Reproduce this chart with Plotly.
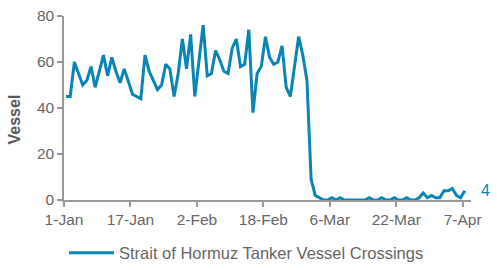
import pandas as pd
import plotly.graph_objects as go

start_date = "2026-01-01"
crossings = [
    45, 45, 60, 55, 50, 52, 58, 49, 56, 63,
    54, 62, 56, 51, 57, 51, 46, 45, 44, 63,
    56, 52, 48, 50, 59, 57, 45, 55, 70, 57,
    72, 45, 60, 76, 54, 55, 65, 61, 56, 55,
    66, 70, 58, 59, 74, 38, 55, 58, 71, 62,
    59, 60, 67, 49, 45, 58, 71, 63, 52, 9,
    2, 1, 0, 0, 1, 0, 1, 0, 0, 0,
    0, 0, 0, 1, 0, 0, 1, 0, 0, 1,
    0, 0, 1, 0, 0, 1, 3, 1, 2, 1,
    1, 4, 4, 5, 2, 1, 4,
]
series_name = "Strait of Hormuz Tanker Vessel Crossings"
tick_dates = ["2026-01-01", "2026-01-17", "2026-02-02", "2026-02-18",
              "2026-03-06", "2026-03-22", "2026-04-07"]
tick_labels = ["1-Jan", "17-Jan", "2-Feb", "18-Feb", "6-Mar", "22-Mar", "7-Apr"]
y_ticks = [0, 20, 40, 60, 80]

dates = pd.date_range(start_date, periods=len(crossings), freq="D") + pd.Timedelta(hours=12)

BLUE = "#0a84b4"
GREY_TXT = "#666666"
AXIS = "#999999"
FONT = "Liberation Sans, Arial, sans-serif"

fig = go.Figure()
fig.add_trace(go.Scatter(
    x=dates, y=crossings, mode="lines", name=series_name,
    line=dict(color=BLUE, width=3),
    showlegend=True,
))

fig.add_annotation(
    x=dates[-1], y=crossings[-1], text=str(crossings[-1]),
    xref="x", yref="y", xanchor="left", yanchor="middle",
    xshift=14, showarrow=False,
    font=dict(family=FONT, size=16, color=BLUE),
)
fig.add_annotation(
    x=0, y=0.4375, xref="paper", yref="paper", text="<b>Vessel</b>",
    textangle=-90, xanchor="center", yanchor="middle", xshift=-50,
    showarrow=False, font=dict(family=FONT, size=16, color="#595959"),
)

fig.update_layout(
    width=497, height=270,
    margin=dict(l=64, r=26, t=16, b=70, autoexpand=False),
    paper_bgcolor="white", plot_bgcolor="white",
    font=dict(family=FONT, size=15.5, color=GREY_TXT),
    legend=dict(
        orientation="h", x=0.0, y=-0.288, xanchor="left", yanchor="middle",
        itemwidth=45,
        font=dict(family=FONT, size=16.5, color=GREY_TXT),
    ),
    xaxis=dict(
        range=["2026-01-01", "2026-04-09"],
        tickvals=tick_dates, ticktext=tick_labels,
        showgrid=False, zeroline=False,
        showline=True, linecolor=AXIS, linewidth=1.5,
        ticks="outside", ticklen=5, tickwidth=1.5, tickcolor=AXIS,
        tickfont=dict(family=FONT, size=15.5, color=GREY_TXT),
    ),
    yaxis=dict(
        range=[0, 80], tickvals=y_ticks,
        showgrid=False, zeroline=False,
        showline=True, linecolor=AXIS, linewidth=1.5,
        ticks="outside", ticklen=5, tickwidth=1.5, tickcolor=AXIS,
        tickfont=dict(family=FONT, size=15.5, color=GREY_TXT),
    ),
)

fig.write_html("out.html")
